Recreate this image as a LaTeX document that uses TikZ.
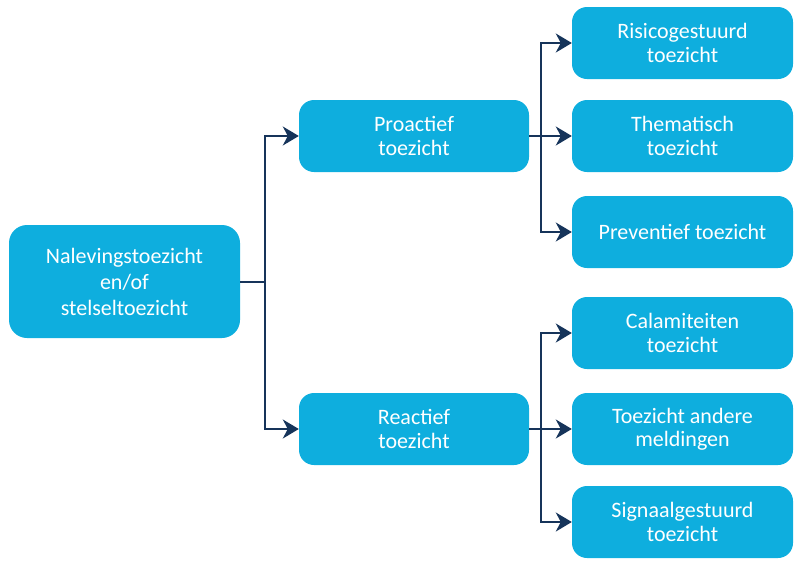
\documentclass[tikz,border=0pt]{standalone}
\usepackage{fontspec}
\setmainfont{Carlito}
\usetikzlibrary{arrows.meta}
\definecolor{boxblue}{RGB}{14,174,222}
\definecolor{linenavy}{RGB}{22,52,90}

\begin{document}
\begin{tikzpicture}[x=1pt, y=-1pt,
        box/.style={shape=rectangle, rounded corners=15pt, fill=boxblue, draw=none,
            text=white, align=center, inner sep=0pt,
            font=\fontsize{22}{23.5}\selectfont},
        conn/.style={draw=linenavy, line width=2pt},
        arr/.style={conn, -{Stealth[length=16pt, width=19pt, inset=5pt]}}]
        \useasboundingbox (0, 0) rectangle (795, 560);
        % root
        \node[box, minimum width=231pt, minimum height=113pt, rounded corners=18pt,
            font=\fontsize{22}{26}\selectfont] (root) at (124.5, 281.5)
            {Nalevingstoezicht\\en/of\\stelseltoezicht};
        % second level
        \node[box, minimum width=230pt, minimum height=72pt] (pro) at (414, 136) {Proactief\\toezicht};
        \node[box, minimum width=230pt, minimum height=72pt] (rea) at (414, 429) {Reactief\\toezicht};
        % third level
        \node[box, minimum width=221pt, minimum height=72pt] (risico) at (682.5, 43) {Risicogestuurd\\toezicht};
        \node[box, minimum width=221pt, minimum height=72pt] (thema) at (682.5, 136) {Thematisch\\toezicht};
        \node[box, minimum width=221pt, minimum height=72pt] (prev) at (682.5, 232) {Preventief toezicht};
        \node[box, minimum width=221pt, minimum height=72pt] (calam) at (682.5, 333) {Calamiteiten\\toezicht};
        \node[box, minimum width=221pt, minimum height=72pt] (melding) at (682.5, 429) {Toezicht andere\\meldingen};
        \node[box, minimum width=221pt, minimum height=72pt] (signaal) at (682.5, 522) {Signaalgestuurd\\toezicht};
        % junctions
        \coordinate (j1) at (265, 281.5);
        \coordinate (j2) at (541, 136);
        \coordinate (j3) at (541, 429);
        \draw[conn] (root.east) to (j1);
        \draw[arr] (j1) |- (pro.west);
        \draw[arr] (j1) |- (rea.west);
        \draw[conn] (pro.east) to (j2);
        \draw[arr] (j2) |- (risico.west);
        \draw[arr] (j2) |- (thema.west);
        \draw[arr] (j2) |- (prev.west);
        \draw[conn] (rea.east) to (j3);
        \draw[arr] (j3) |- (calam.west);
        \draw[arr] (j3) |- (melding.west);
        \draw[arr] (j3) |- (signaal.west);
    \end{tikzpicture}
\end{document}
